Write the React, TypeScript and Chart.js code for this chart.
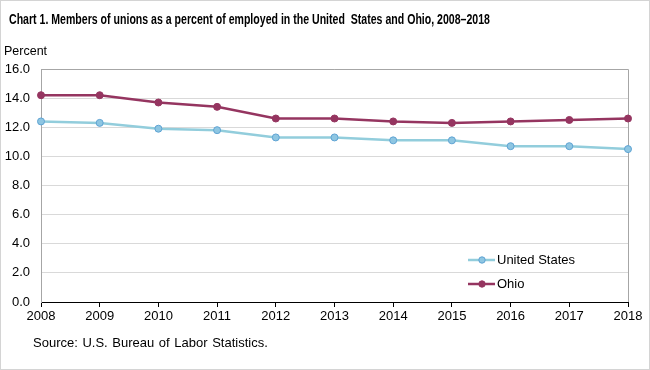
import React, { useEffect, useRef, useLayoutEffect } from "react";
import { Chart, registerables } from "chart.js";
Chart.register(...registerables);

const years = ["2008", "2009", "2010", "2011", "2012", "2013", "2014", "2015", "2016", "2017", "2018"];
const usValues = [12.4, 12.3, 11.9, 11.8, 11.3, 11.3, 11.1, 11.1, 10.7, 10.7, 10.5];
const ohioValues = [14.2, 14.2, 13.7, 13.4, 12.6, 12.6, 12.4, 12.3, 12.4, 12.5, 12.6];
const seriesNames = ["United States", "Ohio"];
const yMin = 0;
const yMax = 16;
const yStep = 2;

const titleText = "Chart 1. Members of unions as a percent of employed in the United  States and Ohio, 2008\u20132018";
const yAxisLabel = "Percent";
const sourceText = "Source: U.S. Bureau of Labor Statistics.";

const FONT = "'Liberation Sans', Arial, sans-serif";
const usLine = "#92cddc";
const usPointFill = "#8ec6e2";
const usPointBorder = "#5fa3d3";
const ohioColor = "#953560";

const framePlugin = {
  id: "frameAndLegend",
  beforeDatasetsDraw(chart: any) {
    const { ctx, chartArea } = chart;
    ctx.save();
    ctx.strokeStyle = "#a6a6a6";
    ctx.lineWidth = 1;
    ctx.beginPath();
    ctx.moveTo(chartArea.left, chartArea.top + 0.5);
    ctx.lineTo(chartArea.right + 0.5, chartArea.top + 0.5);
    ctx.lineTo(chartArea.right + 0.5, chartArea.bottom);
    ctx.stroke();
    ctx.restore();
  },
  afterDraw(chart: any) {
    const { ctx } = chart;
    const items = [
      { y: 260, line: usLine, fill: usPointFill, border: usPointBorder, label: seriesNames[0] },
      { y: 284, line: ohioColor, fill: ohioColor, border: ohioColor, label: seriesNames[1] },
    ];
    ctx.save();
    items.forEach((it) => {
      ctx.strokeStyle = it.line;
      ctx.lineWidth = 2.5;
      ctx.beginPath();
      ctx.moveTo(468, it.y);
      ctx.lineTo(495, it.y);
      ctx.stroke();
      ctx.beginPath();
      ctx.arc(482, it.y, 3.2, 0, Math.PI * 2);
      ctx.fillStyle = it.fill;
      ctx.fill();
      ctx.lineWidth = 1;
      ctx.strokeStyle = it.border;
      ctx.stroke();
      ctx.fillStyle = "#000";
      ctx.font = "13px " + FONT;
      ctx.textBaseline = "middle";
      ctx.textAlign = "left";
      ctx.fillText(it.label, 497, it.y);
    });
    ctx.restore();
  },
};

export default function App() {
  const canvasRef = useRef<HTMLCanvasElement | null>(null);
  const titleRef = useRef<HTMLSpanElement | null>(null);

  useLayoutEffect(() => {
    document.body.style.margin = "0";
    const el = titleRef.current;
    if (el) {
      const w = el.getBoundingClientRect().width;
      if (w > 0) el.style.transform = `scaleX(${481 / w})`;
    }
  }, []);

  useEffect(() => {
    const canvas = canvasRef.current;
    if (!canvas) return;
    const chart = new Chart(canvas, {
      type: "line",
      data: {
        labels: years,
        datasets: [
          {
            label: seriesNames[0],
            data: usValues,
            borderColor: usLine,
            backgroundColor: usPointFill,
            pointBackgroundColor: usPointFill,
            pointBorderColor: usPointBorder,
            pointBorderWidth: 1,
            pointRadius: 3.5,
            borderWidth: 2.5,
            tension: 0,
          },
          {
            label: seriesNames[1],
            data: ohioValues,
            borderColor: ohioColor,
            backgroundColor: ohioColor,
            pointBackgroundColor: ohioColor,
            pointBorderColor: ohioColor,
            pointBorderWidth: 1,
            pointRadius: 3.5,
            borderWidth: 2.5,
            tension: 0,
          },
        ],
      },
      options: {
        animation: false,
        responsive: false,
        maintainAspectRatio: false,
        layout: { padding: { left: 0, right: 22, top: 69, bottom: 38 } },
        plugins: { legend: { display: false }, tooltip: { enabled: false }, title: { display: false } },
        scales: {
          x: {
            type: "category",
            offset: false,
            afterFit: (s: any) => { s.height = 30; },
            grid: { drawOnChartArea: false, drawTicks: true, tickLength: 5, color: "#000" },
            border: { color: "#000", width: 1 },
            ticks: { color: "#000", font: { family: FONT, size: 13 }, padding: 2, maxRotation: 0, autoSkip: false },
          },
          y: {
            min: yMin,
            max: yMax,
            afterFit: (s: any) => { s.width = 41; },
            grid: { color: "#d9d9d9", drawTicks: false, lineWidth: 1 },
            border: { color: "#a6a6a6", width: 1 },
            ticks: {
              stepSize: yStep,
              color: "#000",
              padding: 11,
              font: { family: FONT, size: 13 },
              callback: (v: any) => Number(v).toFixed(1),
            },
          },
        },
      },
      plugins: [framePlugin],
    });
    return () => chart.destroy();
  }, []);

  return (
    <div style={{ position: "relative", width: 650, height: 370, boxSizing: "border-box", border: "1px solid #d4d4d4", overflow: "hidden", background: "#fff" }}>
      <canvas ref={canvasRef} width={650} height={370} style={{ position: "absolute", left: -1, top: -1, width: 650, height: 370 }} />
      <div style={{ position: "absolute", left: 8, top: 9, whiteSpace: "pre", fontFamily: FONT, fontWeight: "bold", fontSize: 15, lineHeight: "18px", color: "#000" }}>
        <span ref={titleRef} style={{ display: "inline-block", transformOrigin: "left center" }}>{titleText}</span>
      </div>
      <div style={{ position: "absolute", left: 3, top: 42, fontFamily: FONT, fontSize: 12.5, lineHeight: "16px", color: "#000" }}>{yAxisLabel}</div>
      <div style={{ position: "absolute", left: 32, top: 334, fontFamily: FONT, fontSize: 13, lineHeight: "16px", color: "#000", wordSpacing: 1 }}>{sourceText}</div>
    </div>
  );
}
